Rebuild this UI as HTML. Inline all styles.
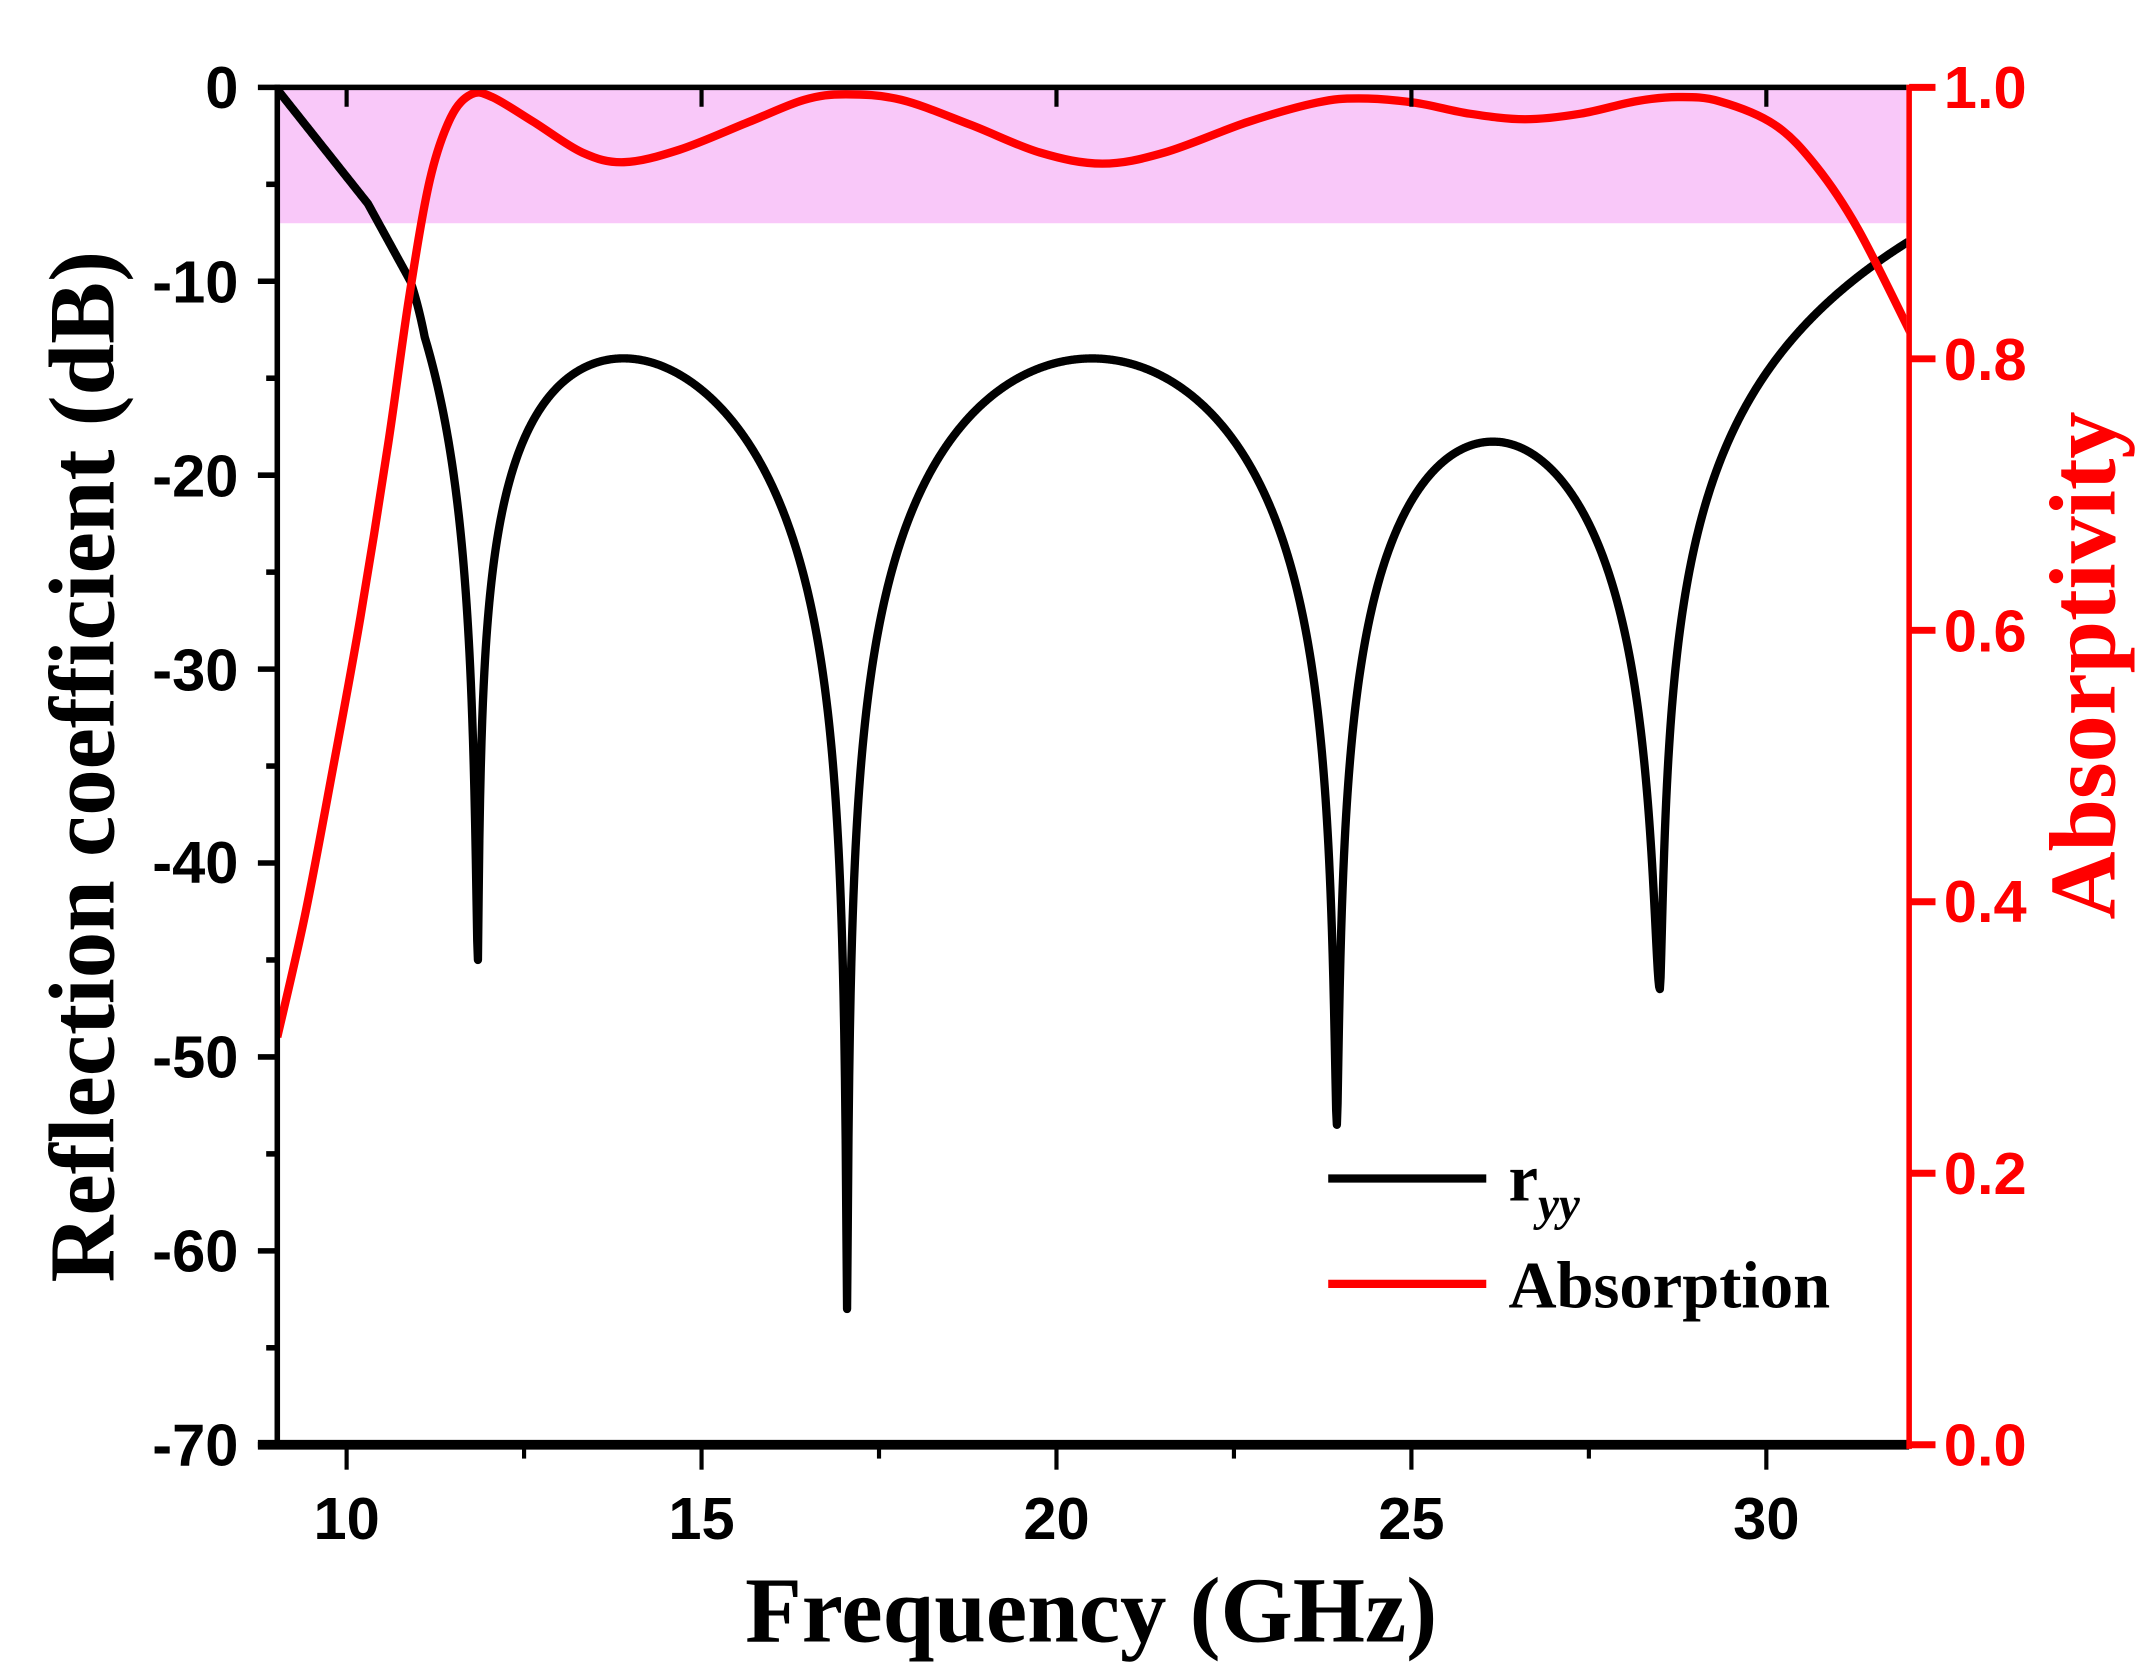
<!DOCTYPE html>
<html><head><meta charset="utf-8"><style>
html,body{margin:0;padding:0;background:#fff;}
svg{display:block;}
</style></head><body>
<svg id="s" width="2149" height="1671" viewBox="0 0 1550 1205.2" preserveAspectRatio="none" xmlns="http://www.w3.org/2000/svg">
<defs><clipPath id="c"><rect x="200" y="63" width="1175" height="979"/></clipPath></defs>
<rect x="200" y="63" width="1175" height="98" fill="#f9c8f9"/>
<g clip-path="url(#c)">
<path id="blk" fill="none" stroke="#000" stroke-width="6" stroke-linejoin="round"/>
<path id="red" fill="none" stroke="#ff0000" stroke-width="6" stroke-linejoin="round"/>
</g>
<g id="ax"></g>
<g font-family="'Liberation Sans',Arial,sans-serif" font-weight="bold" font-size="43">
<g text-anchor="end" fill="#000">
<text x="172" y="78">0</text><text x="172" y="218">-10</text><text x="172" y="358">-20</text>
<text x="172" y="498">-30</text><text x="172" y="637">-40</text><text x="172" y="777">-50</text>
<text x="172" y="917">-60</text><text x="172" y="1057">-70</text>
</g>
<g fill="#ff0000">
<text x="1402" y="78">1.0</text><text x="1402" y="274">0.8</text><text x="1402" y="470">0.6</text>
<text x="1402" y="665">0.4</text><text x="1402" y="861">0.2</text><text x="1402" y="1057">0.0</text>
</g>
<g text-anchor="middle" fill="#000">
<text x="250" y="1110">10</text><text x="506" y="1110">15</text><text x="762" y="1110">20</text>
<text x="1018" y="1110">25</text><text x="1274" y="1110">30</text>
</g>
</g>
<g font-family="'Liberation Serif','Times New Roman',serif" font-weight="bold">
<text x="787" y="1184" font-size="67" text-anchor="middle">Frequency (GHz)</text>
<text transform="translate(82,553) rotate(-90)" font-size="67" text-anchor="middle">Reflection coefficient (dB)</text>
<text transform="translate(1525,480) rotate(-90)" font-size="68" text-anchor="middle" fill="#ff0000">Absorptivity</text>
<text x="1088" y="866" font-size="48">r<tspan font-style="italic" font-size="34" dy="14">yy</tspan></text>
<text x="1088" y="943" font-size="48">Absorption</text>
</g>
<line x1="958" y1="850" x2="1072" y2="850" stroke="#000" stroke-width="6"/>
<line x1="958" y1="926" x2="1072" y2="926" stroke="#ff0000" stroke-width="6"/>
</svg>
<script>
var X=function(f){return 198.8+(f-9)*51.2;};
var Y=function(db){return 63-db*13.986;};
function amp(f){
  var dips=[[11.85,-45],[17.05,-63],[23.95,-53.5],[28.5,-46.5]];
  var a;
  if(f<=11.85){var u=(f-9)/2.85;a=Math.cos(Math.PI/2*Math.pow(u,0.516));}
  else if(f<=17.05){var t=(f-11.85)/5.2;a=0.2*Math.sin(Math.PI*Math.pow(t,0.745));}
  else if(f<=23.95){var t=(f-17.05)/6.9;a=0.2*Math.sin(Math.PI*t);}
  else if(f<=28.5){var t=(f-23.95)/4.55;a=0.122*Math.sin(Math.PI*Math.pow(t,0.95));}
  else {var u=(f-28.5)/3.5;a=0.4*Math.pow(u,0.92);}
  var best=1e9,m=0;
  dips.forEach(function(d){var dd=Math.abs(f-d[0]);if(dd<best){best=dd;m=Math.pow(10,d[1]/20);}});
  if(f<10)m=0;
  return Math.sqrt(a*a+m*m);
}
var pts=[],fs=[];
for(var f=9;f<=32.0001;f+=0.01)fs.push(+f.toFixed(3));
[11.85,17.05,23.95,28.5].forEach(function(d){fs.push(d);});
fs.sort(function(a,b){return a-b;});
fs.forEach(function(f){var db;
  if(f<=10.3){db=-6*(f-9)/1.3;}
  else if(f<=10.9){db=-6-4*(f-10.3)/0.6;}
  else {db=20*Math.log10(Math.max(amp(f),1e-6)); if(f<11.1){var w=(f-10.9)/0.2;db=w*db+(1-w)*(-10-(f-10.9)*8);} }
  pts.push(X(f).toFixed(2)+","+Y(db).toFixed(2));});
document.getElementById('blk').setAttribute('d','M'+pts.join('L'));
var rp=[[200,748],[220,660],[240,555],[260,445],[280,320],[295,215],[310,130],[325,85],[340,68],[355,70],[385,88],[420,110],[450,117],[490,108],[540,88],[580,72],[610,68],[650,72],[700,90],[750,110],[795,118],[840,110],[900,88],[950,74],[980,71],[1020,74],[1060,82],[1100,86],[1140,82],[1180,73],[1210,70],[1240,73],[1280,90],[1310,120],[1340,165],[1378,240]];
var d='M'+rp[0][0]+','+rp[0][1];
for(var i=0;i<rp.length-1;i++){
  var p0=rp[Math.max(i-1,0)],p1=rp[i],p2=rp[i+1],p3=rp[Math.min(i+2,rp.length-1)];
  var c1x=p1[0]+(p2[0]-p0[0])/6,c1y=p1[1]+(p2[1]-p0[1])/6,c2x=p2[0]-(p3[0]-p1[0])/6,c2y=p2[1]-(p3[1]-p1[1])/6;
  d+='C'+c1x+','+c1y+' '+c2x+','+c2y+' '+p2[0]+','+p2[1];
}
document.getElementById('red').setAttribute('d',d);
var ax='';
ax+='<line x1="200" y1="63" x2="1375" y2="63" stroke="#000" stroke-width="4"/>';
ax+='<line x1="200" y1="61" x2="200" y2="1044" stroke="#000" stroke-width="4"/>';
for(var v=0;v>=-70;v-=5){var y=Y(v);var L=(v%10===0)?14:8;ax+='<line x1="'+(200-L)+'" y1="'+y+'" x2="200" y2="'+y+'" stroke="#000" stroke-width="4"/>';}
for(var f2=10;f2<=30;f2+=2.5){var x=X(f2);var maj=(f2%5===0);ax+='<line x1="'+x+'" y1="1042" x2="'+x+'" y2="'+(1042+(maj?18:10))+'" stroke="#000" stroke-width="3"/>';if(maj)ax+='<line x1="'+x+'" y1="63" x2="'+x+'" y2="77" stroke="#000" stroke-width="3"/>';}
ax+='<line x1="186" y1="1042" x2="1377" y2="1042" stroke="#000" stroke-width="7"/>';
ax+='<line x1="1377" y1="61" x2="1377" y2="1045" stroke="#ff0000" stroke-width="4"/>';
for(var k=0;k<=5;k++){var y=63+979*(1-k/5);ax+='<line x1="1377" y1="'+y+'" x2="1396" y2="'+y+'" stroke="#ff0000" stroke-width="5"/>';}
document.getElementById('ax').innerHTML=ax;
</script>
</body></html>
